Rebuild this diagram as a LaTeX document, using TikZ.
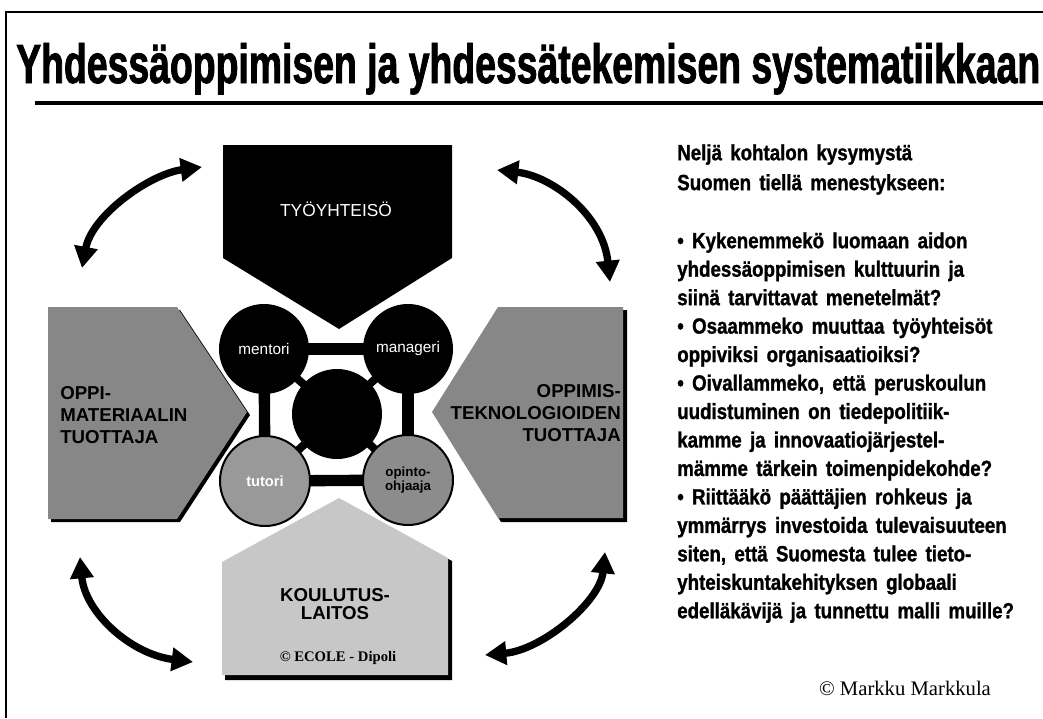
\documentclass[tikz,border=0pt]{standalone}
\usepackage{fontspec}
\setmainfont{Liberation Serif}
\newfontfamily\condfont[FakeStretch=0.85,WordSpace=1.6,FakeBold=1.2]{Liberation Sans}
\newfontfamily\titlefont[FakeStretch=0.7,FakeBold=1.5]{Liberation Sans}
\newfontfamily\arialfont{Liberation Sans}
\usetikzlibrary{arrows.meta}
\pgfdeclarelayer{bglayer}
\pgfdeclarelayer{barlayer}
\pgfsetlayers{bglayer,barlayer,main}
\begin{document}
\begin{tikzpicture}[x=0.75pt,y=-0.75pt,
  frameline/.style={line width=1.2pt},
  darkbox/.style={fill=black!47},
  lightbox/.style={fill=black!22},
  shadowbox/.style={fill=black},
  blackbox/.style={fill=black},
  boxlabel/.style={font=\arialfont\bfseries\fontsize{14}{16.5}\selectfont, text=black, inner sep=0pt},
  bar/.style={line width=8.5pt, black},
  bigarrow/.style={line width=5.5pt, {Triangle[length=16pt,width=17pt]}-{Triangle[length=16pt,width=17pt]}},
  disc/.style={circle, inner sep=0pt, minimum size=67.5pt},
  blackdisc/.style={disc, fill=black, text=white, font=\arialfont\fontsize{11.5}{12}\selectfont},
  graydisc/.style={disc, draw=black, line width=1.5pt, font=\arialfont\bfseries\fontsize{11}{11}\selectfont},
  qtext/.style={font=\condfont\bfseries\fontsize{16.5}{21.35}\selectfont, align=left, inner sep=0pt, anchor=north west}
]
\useasboundingbox (0,0) rectangle (1043,718);
\begin{pgfonlayer}{bglayer}
\fill[white] (0,0) rectangle (1043,718);
\end{pgfonlayer}
% frame
\draw[frameline] (6,718) -- (6,12) -- (1043,12);
% title
\node[anchor=base west, inner sep=0pt] (title) at (16,83)
  {\resizebox{768pt}{30pt}{\titlefont\bfseries Yhdessäoppimisen ja yhdessätekemisen systematiikkaan}};
\draw[line width=3pt] (35,103) -- (1043,103);

% curved arrows
\coordinate (a1) at (82,268);  \coordinate (a2) at (202,167);
\coordinate (b1) at (497,170); \coordinate (b2) at (610,282);
\coordinate (c1) at (80,557);  \coordinate (c2) at (193,662);
\coordinate (d1) at (485,655); \coordinate (d2) at (605,552);
\draw[bigarrow] (a1) .. controls (92,215) and (150,174) .. (a2);
\draw[bigarrow] (b1) .. controls (552,176) and (603,215) .. (b2);
\draw[bigarrow] (c1) .. controls (85,612) and (130,654) .. (c2);
\draw[bigarrow] (d1) .. controls (542,650) and (600,602) .. (d2);

% left pentagon
\fill[shadowbox] (51,310) -- (180,310) -- (250,415) -- (180,522) -- (51,522) -- cycle;
\fill[darkbox] (48,307) -- (177,307) -- (247,412) -- (177,519) -- (48,519) -- cycle;
% right pentagon
\fill[shadowbox] (501,310) -- (627,310) -- (627,522) -- (501,522) -- (435,415) -- cycle;
\fill[darkbox] (498,307) -- (623,307) -- (623,518) -- (498,518) -- (432,412) -- cycle;
% bottom pentagon
\fill[shadowbox] (225,565) -- (342,501) -- (452,561) -- (452,680) -- (225,680) -- cycle;
\fill[lightbox] (222,562) -- (339,498) -- (448,558) -- (448,675) -- (222,675) -- cycle;
% top pentagon
\fill[blackbox] (223,145) -- (452,145) -- (452,258) -- (339,329) -- (223,258) -- cycle;

% circles
\node[blackdisc] (mentori) at (264,349) {mentori};
\node[blackdisc] (manageri) at (408,349) {manageri};
\node[blackdisc] (center) at (337,414) {};
\node[graydisc, fill=black!40, text=white] (tutori) at (265,481) {tutori};
\node[graydisc, fill=black!45, align=center, font=\arialfont\bfseries\fontsize{10}{10.5}\selectfont] (opinto) at (408,480) {opinto-\\ohjaaja};
% bars
\begin{pgfonlayer}{barlayer}
\draw[bar] (mentori.center) -- (tutori.center);
\draw[bar] (manageri.center) -- (opinto.center);
\draw[bar] (tutori.center) -- (opinto.center);
\draw[bar] (mentori.center) -- (manageri.center);
\draw[bar, line width=6pt] (center.center) -- (mentori.center);
\draw[bar, line width=6pt] (center.center) -- (manageri.center);
\draw[bar, line width=6pt] (center.center) -- (tutori.center);
\draw[bar, line width=6pt] (center.center) -- (opinto.center);
\end{pgfonlayer}

% box labels
\node[text=white, font=\arialfont\fontsize{13}{14}\selectfont, inner sep=0pt] (tyo) at (336,209) {TYÖYHTEISÖ};
\node[boxlabel, align=left, anchor=west] (oppi) at (60,415) {OPPI-\\MATERIAALIN\\TUOTTAJA};
\node[boxlabel, align=right, anchor=east] (tekno) at (621,413) {OPPIMIS-\\TEKNOLOGIOIDEN\\TUOTTAJA};
\node[boxlabel, align=center, font=\arialfont\bfseries\fontsize{14}{13.5}\selectfont] (koulu) at (335,604) {KOULUTUS-\\LAITOS};
\node[inner sep=0pt, font=\bfseries\fontsize{11}{12}\selectfont] (ecole) at (338,658) {© ECOLE - Dipoli};

% right text
\node[qtext] (head) at (677,144) {Neljä kohtalon kysymystä\\[1.1pt]Suomen tiellä menestykseen:};
\node[qtext] (questions) at (677,232) {%
• Kykenemmekö luomaan aidon\\
yhdessäoppimisen kulttuurin ja\\
siinä tarvittavat menetelmät?\\
• Osaammeko muuttaa työyhteisöt\\
oppiviksi organisaatioiksi?\\
• Oivallammeko, että peruskoulun\\
uudistuminen on tiedepolitiik-\\
kamme ja innovaatiojärjestel-\\
mämme tärkein toimenpidekohde?\\
• Riittääkö päättäjien rohkeus ja\\
ymmärrys investoida tulevaisuuteen\\
siten, että Suomesta tulee tieto-\\
yhteiskuntakehityksen globaali\\
edelläkävijä ja tunnettu malli muille?};
\node[inner sep=0pt, font=\fontsize{15.5}{17}\selectfont] (copy) at (905,688) {© Markku Markkula};
\end{tikzpicture}
\end{document}
